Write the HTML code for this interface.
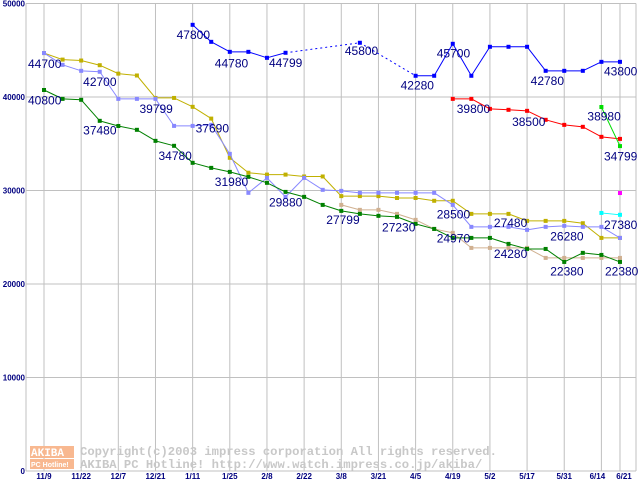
<!DOCTYPE html>
<html><head><meta charset="utf-8"><style>
html,body{margin:0;padding:0;background:#fff;}
svg{display:block;font-family:"Liberation Sans",sans-serif;}
</style></head><body>
<svg id="chart" width="640" height="480">
<g id="grid"></g>
<g id="wm">
 <rect x="30" y="446" width="44" height="12" fill="#f8b890"/>
 <text x="31" y="456" font-size="11" fill="#fff" font-family="Liberation Mono,monospace" font-weight="bold">AKIBA</text>
 <rect x="30" y="459" width="44" height="10" fill="#f8b890"/>
 <text x="31" y="467" font-size="7" fill="#fff" font-weight="bold">PC Hotline!</text>
 <text x="80" y="455" font-size="12.2" fill="#c8c8c8" font-family="Liberation Mono,monospace" font-weight="bold">Copyright(c)2003 impress corporation All rights reserved.</text>
 <text x="80" y="468" font-size="12.2" fill="#c8c8c8" font-family="Liberation Mono,monospace" font-weight="bold">AKIBA PC Hotline!  http://www.watch.impress.co.jp/akiba/</text>
</g>
<g id="series"></g>
<g id="labels"></g>
</svg>
<script>
const dates = ["11/9","","11/22","","12/7","","12/21","","1/11","","1/25","","2/8","","2/22","","3/8","","3/21","","4/5","","4/19","","5/2","","5/17","","5/31","","6/14","6/21"];
const yTicks = [0,10000,20000,30000,40000,50000];
const N = null;
const yellow = [44700,44000,43900,43400,42500,42300,39900,39900,38950,37690,33500,31900,31700,31700,31500,31500,29400,29400,29400,29200,29200,28900,28900,27500,27500,27500,26750,26750,26750,26500,24930,24930];
const lavender = [44700,43440,42800,42700,39800,39800,39800,36910,36910,37020,33920,29750,31350,29320,31350,30070,29960,29750,29750,29750,29750,29750,28460,26110,26110,26110,25790,26110,26220,26110,26110,24930];
const green = [40750,39800,39700,37450,36900,36490,35310,34780,32960,32420,31990,31460,30820,29850,29320,28460,27820,27500,27290,27180,26430,25890,24930,24930,24930,24290,23750,23750,22360,23330,23110,22360];
const tan = [N,N,N,N,N,N,N,N,N,N,N,N,N,N,N,N,28460,27930,27930,27500,26860,25890,25470,23860,23860,23860,23860,22790,22790,22790,22790,22790];
const blue = [N,N,N,N,N,N,N,N,47720,45900,44830,44830,44190,44730,N,N,N,45800,N,N,42270,42270,45690,42270,45370,45370,45370,42800,42800,42800,43760,43760];
const red = [N,N,N,N,N,N,N,N,N,N,N,N,N,N,N,N,N,N,N,N,N,N,39800,39800,38730,38630,38520,37560,37020,36810,35740,35520];
const lime = [N,N,N,N,N,N,N,N,N,N,N,N,N,N,N,N,N,N,N,N,N,N,N,N,N,N,N,N,N,N,38930,34750];
const cyan = [N,N,N,N,N,N,N,N,N,N,N,N,N,N,N,N,N,N,N,N,N,N,N,N,N,N,N,N,N,N,27600,27400];
const magenta = [N,N,N,N,N,N,N,N,N,N,N,N,N,N,N,N,N,N,N,N,N,N,N,N,N,N,N,N,N,N,N,29730];
const labelTexts = ["44700","42700","40800","39799","37480","37690","34780","31980","29880","47800","44780","44799","45800","42280","45700","42780","43800","39800","38500","38980","34799","27799","27230","28500","27480","26280","27380","24970","24280","22380","22380"];
const labelIdx = [0,2,0,6,2,8,6,10,12,8,10,12,17,20,22,27,31,22,26,30,31,16,19,22,24,28,31,22,24,28,31];
const labelVal = [44700,42700,40800,39799,37480,37690,34780,31980,29880,47800,44780,44799,45800,42280,45700,42780,43800,39800,38500,38980,34799,27799,27230,28500,27480,26280,27380,24970,24280,22380,22380];

const NS="http://www.w3.org/2000/svg";
const X0=44, DX=18.58, Y0=471, YS=93.5/10000;
function xs(i){return X0+i*DX;}
function ys(v){return Y0-v*YS;}
function mk(tag,attrs,parent){const e=document.createElementNS(NS,tag);for(const k in attrs)e.setAttribute(k,attrs[k]);parent.appendChild(e);return e;}
const grid=document.getElementById('grid');
yTicks.forEach(t=>{
  const l=mk('line',{x1:26,x2:636,y1:ys(t),y2:ys(t),stroke:'#c0c0c0','stroke-width':1},grid);
  
  
  const tx=mk('text',{x:25,y:ys(t)+3,'text-anchor':'end','font-size':8,'font-weight':'bold',fill:'#000080'},grid);
  tx.textContent=String(t);
  
  
});
mk('line',{x1:26,x2:26,y1:ys(50000),y2:Y0,stroke:'#c0c0c0'},grid);
mk('line',{x1:636,x2:636,y1:ys(50000),y2:Y0,stroke:'#c0c0c0'},grid);
dates.forEach((d,i)=>{
  if(!d)return;
  const l=mk('line',{x1:xs(i),x2:xs(i),y1:ys(50000),y2:Y0,stroke:'#c0c0c0'},grid);
  
  
  let ax=xs(i); if(d==="6/14")ax-=4; if(d==="6/21")ax+=4;
  const tx=mk('text',{x:ax,y:479,'text-anchor':'middle','font-size':8,'font-weight':'bold',fill:'#000080'},grid);
  tx.textContent=d;
  
  
});
const sg=document.getElementById('series');
function draw(arr,color,name){
  const g=mk('g',{},sg);
  
  
  let prev=-1;
  arr.forEach((v,i)=>{
    if(v===null)return;
    if(prev>=0){
      const a={x1:xs(prev),y1:ys(arr[prev]),x2:xs(i),y2:ys(v),stroke:color,'stroke-width':1};
      if(i-prev>1)a['stroke-dasharray']='2,3';
      mk('line',a,g);
    }
    prev=i;
  });
  arr.forEach((v,i)=>{
    if(v===null)return;
    const r=mk('rect',{x:xs(i)-2,y:ys(v)-2,width:4,height:4,fill:color},g);
    
    
  });
}
draw(tan,'#d0b090','series-tan');
draw(yellow,'#c0b000','series-yellow');
draw(lavender,'#8888ff','series-lavender');
draw(green,'#008000','series-green');
draw(blue,'#0000ff','series-blue');
draw(red,'#ff0000','series-red');
draw(lime,'#00dd00','series-lime');
draw(cyan,'#00ffff','series-cyan');
draw(magenta,'#ff00ff','series-magenta');
const lg=document.getElementById('labels');
const offs=[[-16,15],[2,14],[-16,15],[-16,14],[2,14],[3,14],[3,14],[-15,14],[2,15],[-16,15],[-15,15],[2,15],[-15,12],[-15,14],[-16,14],[-15,14],[-16,14],[4,14],[-15,15],[-14,14],[-16,15],[-15,13],[-15,15],[-16,14],[4,13],[-14,15],[-16,14],[-16,5],[4,14],[-14,14],[-15,14]];
labelTexts.forEach((t,k)=>{
  const tx=mk('text',{x:xs(labelIdx[k])+offs[k][0],y:ys(labelVal[k])+offs[k][1],'font-size':12,fill:'#000080'},lg);
  tx.textContent=t;
  
  
});
</script>
</body></html>
